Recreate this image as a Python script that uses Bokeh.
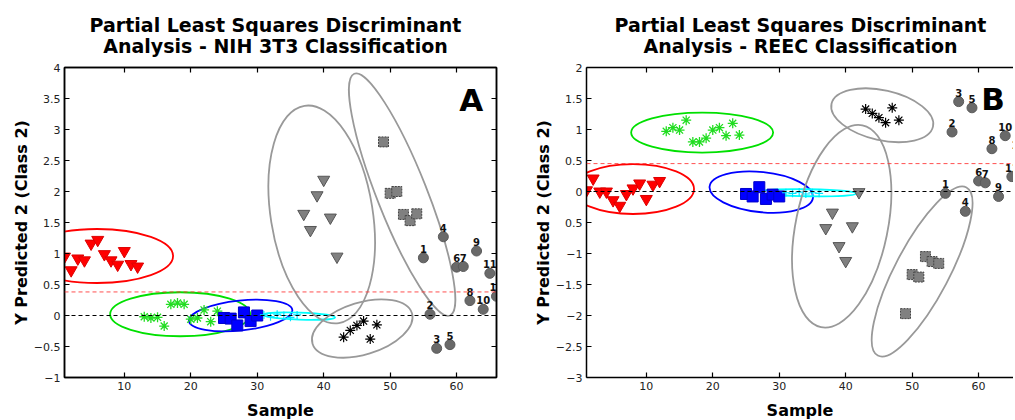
from bokeh.plotting import figure
from bokeh.models import Range1d, LinearAxis, FixedTicker, Span, Label
from bokeh.layouts import row, column
from bokeh.embed import file_html
from bokeh.resources import INLINE
from bokeh.core.properties import value

# ---------------- data ----------------
x_red = [1, 2, 3, 4, 5, 6, 7, 8, 9, 10, 11, 12]
x_green = [13, 14, 15, 16, 17, 18, 19, 20, 21, 22, 23, 24]
x_blue = [25, 26, 27, 28, 29, 30]
x_cyan = [31, 32, 33, 34, 35, 36]
x_tri = [37, 38, 39, 40, 41, 42]
x_star = [43, 44, 45, 46, 47, 48]
x_sq = [49, 50, 51, 52, 53, 54]
x_circ = [55, 56, 57, 58, 59, 60, 61, 62, 63, 64, 65, 66]
circ_labels = ["1", "2", "3", "4", "5", "6", "7", "8", "9", "10", "11", "12"]

# Panel A - NIH 3T3
a_red = [0.95, 0.73, 0.92, 0.89, 1.16, 1.22, 0.99, 0.89, 0.82, 1.04, 0.83, 0.79]
a_green = [-0.02, -0.04, -0.03, -0.17, 0.18, 0.20, 0.18, -0.06, -0.04, 0.09, -0.10, 0.07]
a_blue = [-0.04, -0.05, -0.16, 0.05, -0.09, 0.00]
a_cyan = [0.01, -0.02, 0.02, 0.00, -0.03, 0.01]
a_tri = [1.64, 1.38, 1.94, 2.19, 1.58, 0.95]
a_star = [-0.35, -0.24, -0.16, -0.09, -0.38, -0.15]
a_sq = [2.80, 1.97, 2.00, 1.63, 1.53, 1.64]
a_circ = [0.93, 0.02, -0.53, 1.27, -0.47, 0.78, 0.79, 0.24, 1.04, 0.10, 0.68, 0.31]
a_threshold = 0.38

# Panel B - REEC
b_red = [0.02, 0.21, 0.00, 0.00, -0.14, -0.23, -0.04, 0.05, 0.13, -0.12, 0.11, 0.17]
b_green = [0.97, 1.03, 0.99, 1.15, 0.80, 0.80, 0.86, 0.99, 1.03, 0.90, 1.10, 0.91]
b_blue = [-0.04, -0.08, 0.07, -0.12, -0.05, -0.08]
b_cyan = [-0.02, -0.03, -0.01, -0.04, -0.02, -0.03]
b_tri = [-0.59, -0.34, -0.88, -1.12, -0.56, -0.01]
b_star = [1.33, 1.26, 1.19, 1.11, 1.35, 1.15]
b_sq = [-1.97, -1.34, -1.38, -1.05, -1.13, -1.16]
b_circ = [-0.03, 0.96, 1.45, -0.32, 1.35, 0.17, 0.14, 0.69, -0.08, 0.90, 0.24, 0.60]
b_threshold = 0.45

x_ticks = [10, 20, 30, 40, 50, 60]
a_y_ticks = [-1, -0.5, 0, 0.5, 1, 1.5, 2, 2.5, 3, 3.5, 4]
b_y_ticks = [-3, -2.5, -2, -1.5, -1, -0.5, 0, 0.5, 1, 1.5, 2]

a_title = ["Partial Least Squares Discriminant", "Analysis - NIH 3T3 Classification"]
b_title = ["Partial Least Squares Discriminant", "Analysis - REEC Classification"]

# group ellipses: centre (data), semi-axes (px), angle (deg), colour
a_ellipses = [
    (5.9, 0.96, 76, 27, 0, "#ff0000"),
    (18.4, 0.02, 70, 22, 0, "#00e000"),
    (27.5, 0.00, 52, 15, 6, "#0000ff"),
    (36.3, -0.01, 36, 3.5, -2, "#00ffff"),
    (39.7, 1.63, 110, 51, 99, "#999999"),
    (51.8, 1.95, 130, 25, 111.6, "#999999"),
    (45.8, -0.21, 52, 26, 17, "#999999"),
]
b_ellipses = [
    (8.0, 0.04, 61, 25, 0, "#ff0000"),
    (18.4, 0.95, 71, 20, 0, "#00e000"),
    (27.3, -0.01, 52, 20, -6, "#0000ff"),
    (34.4, -0.02, 48, 3.5, -1, "#00ffff"),
    (39.4, -0.56, 103, 46, 78.4, "#999999"),
    (45.5, 1.23, 52, 25, -12.7, "#999999"),
    (51.5, -1.29, 95, 27, 62.2, "#999999"),
]

FONT = "DejaVu Sans"
FRAME_H = 310
TITLE_H = 61
PX_PER_UNIT = 432 / 65.0


def style_axis(ax, ticks, labels=True):
    ax.ticker = FixedTicker(ticks=ticks)
    ax.minor_tick_line_color = None
    ax.major_tick_in = 5
    ax.major_tick_out = 0
    ax.axis_line_color = "black"
    ax.axis_line_width = 1.5
    ax.major_tick_line_color = "black"
    ax.major_tick_line_width = 1.2
    ax.major_label_text_font = FONT
    ax.major_label_text_color = "#222222"
    ax.major_label_text_font_size = "11px"
    if labels:
        ax.major_label_standoff = 4
    else:
        ax.major_label_overrides = {t: "" for t in ticks}
        ax.major_label_standoff = 0


def make_title(lines, fw, mbl, mbr, cx):
    # a frame-only strip, aligned with the panel's frame, carrying the two title lines
    t = figure(frame_width=fw, frame_height=TITLE_H,
               x_range=Range1d(0, fw), y_range=Range1d(0, TITLE_H),
               x_axis_location=None, y_axis_location=None,
               output_backend="svg", toolbar_location=None,
               min_border_left=mbl, min_border_right=mbr,
               min_border_top=0, min_border_bottom=0)
    t.grid.visible = False
    t.outline_line_color = None
    t.background_fill_color = "white"
    t.border_fill_color = "white"
    t.text(x=[cx, cx], y=[TITLE_H - 24, TITLE_H - 45], text=lines,
           text_align="center", text_baseline="middle", text_font=value(FONT),
           text_font_size="19px", text_font_style="bold", text_color="black")
    return t


def make_panel(yr, fw, mbl, mbr, ys, ellipses, thr, yticks, letter, ly, mirror_right, overrides=None):
    p = figure(frame_width=fw, frame_height=FRAME_H,
               x_range=Range1d(1, 1 + fw / PX_PER_UNIT), y_range=Range1d(*yr),
               output_backend="svg", toolbar_location=None,
               min_border_left=mbl, min_border_right=mbr,
               min_border_top=6, min_border_bottom=34)
    p.background_fill_color = "white"
    p.border_fill_color = "white"
    p.grid.visible = False

    style_axis(p.xaxis[0], x_ticks)
    style_axis(p.yaxis[0], yticks)
    if overrides:
        p.yaxis[0].major_label_overrides = overrides
    p.xaxis.axis_label = "Sample"
    p.yaxis.axis_label = "Y Predicted 2 (Class 2)"
    for ax in (p.xaxis[0], p.yaxis[0]):
        ax.axis_label_text_font = FONT
        ax.axis_label_text_font_size = "16px"
        ax.axis_label_text_font_style = "bold"
        ax.axis_label_text_color = "black"
    p.xaxis.axis_label_standoff = 8
    p.yaxis.axis_label_standoff = 0

    top = LinearAxis()
    style_axis(top, x_ticks, labels=False)
    p.add_layout(top, "above")
    if mirror_right:
        right = LinearAxis()
        style_axis(right, yticks, labels=False)
        p.add_layout(right, "right")
        p.outline_line_color = "black"
        p.outline_line_width = 1.5
    else:
        p.outline_line_color = None

    # ellipses
    for cx, cy, a, b, ang, col in ellipses:
        p.ellipse(x=[cx], y=[cy], width=[2 * a], height=[2 * b], angle=[ang],
                  angle_units="deg", width_units="screen", height_units="screen",
                  fill_color=None, line_color=col, line_width=1.8)

    # reference lines
    p.add_layout(Span(location=thr, dimension="width", line_color="#ff3030",
                      line_dash="4 3", line_width=1, line_alpha=0.85))
    p.add_layout(Span(location=0, dimension="width", line_color="black",
                      line_dash="4 3", line_width=1))

    r, g, bl, cy_, tri, st, sq, ci = ys
    p.scatter(x_red, r, marker="inverted_triangle", size=12,
              fill_color="#ff0000", line_color="#dd0000")
    p.scatter(x_green, g, marker="asterisk", size=10,
              line_color="#22dd22", line_width=1.3)
    p.scatter(x_blue, bl, marker="square", size=11,
              fill_color="#0000ff", line_color="#0000cc")
    p.scatter(x_cyan, cy_, marker="cross", size=8,
              line_color="#00e5ff", line_width=1.2)
    p.scatter(x_tri, tri, marker="inverted_triangle", size=12,
              fill_color="#808080", line_color="#555555")
    p.scatter(x_star, st, marker="asterisk", size=10,
              line_color="black", line_width=1.2)
    p.scatter(x_sq, sq, marker="square", size=10,
              fill_color="#808080", line_color="#444444", line_dash="2 1")
    p.scatter(x_circ, ci, marker="circle", size=10,
              fill_color="#696969", line_color="#5a5a5a")
    p.text(x=x_circ, y=ci, text=circ_labels, text_align="center",
           text_baseline="bottom", y_offset=-5, text_font=value(FONT),
           text_font_size="10px", text_font_style="bold", text_color="#111111")

    p.add_layout(Label(x=60.4, y=ly, text=letter, text_font=FONT,
                       text_font_size="31px", text_font_style="bold",
                       text_baseline="top", text_color="black"))
    return p


pa = make_panel((-1, 4), 432, 64, 10,
                (a_red, a_green, a_blue, a_cyan, a_tri, a_star, a_sq, a_circ),
                a_ellipses, a_threshold, a_y_ticks, "A", 3.76, True)
pb = make_panel((-3, 2), 427, 80, 0,
                (b_red, b_green, b_blue, b_cyan, b_tri, b_star, b_sq, b_circ),
                b_ellipses, b_threshold, b_y_ticks, "B", 1.79, False,
                overrides={-0.5: "0.5"})
ta = make_title(a_title, 432, 64, 10, 211)
tb = make_title(b_title, 427, 80, 0, 214)

layout = row(column(ta, pa), column(tb, pb))
open("out.html", "w").write(file_html(layout, INLINE))
